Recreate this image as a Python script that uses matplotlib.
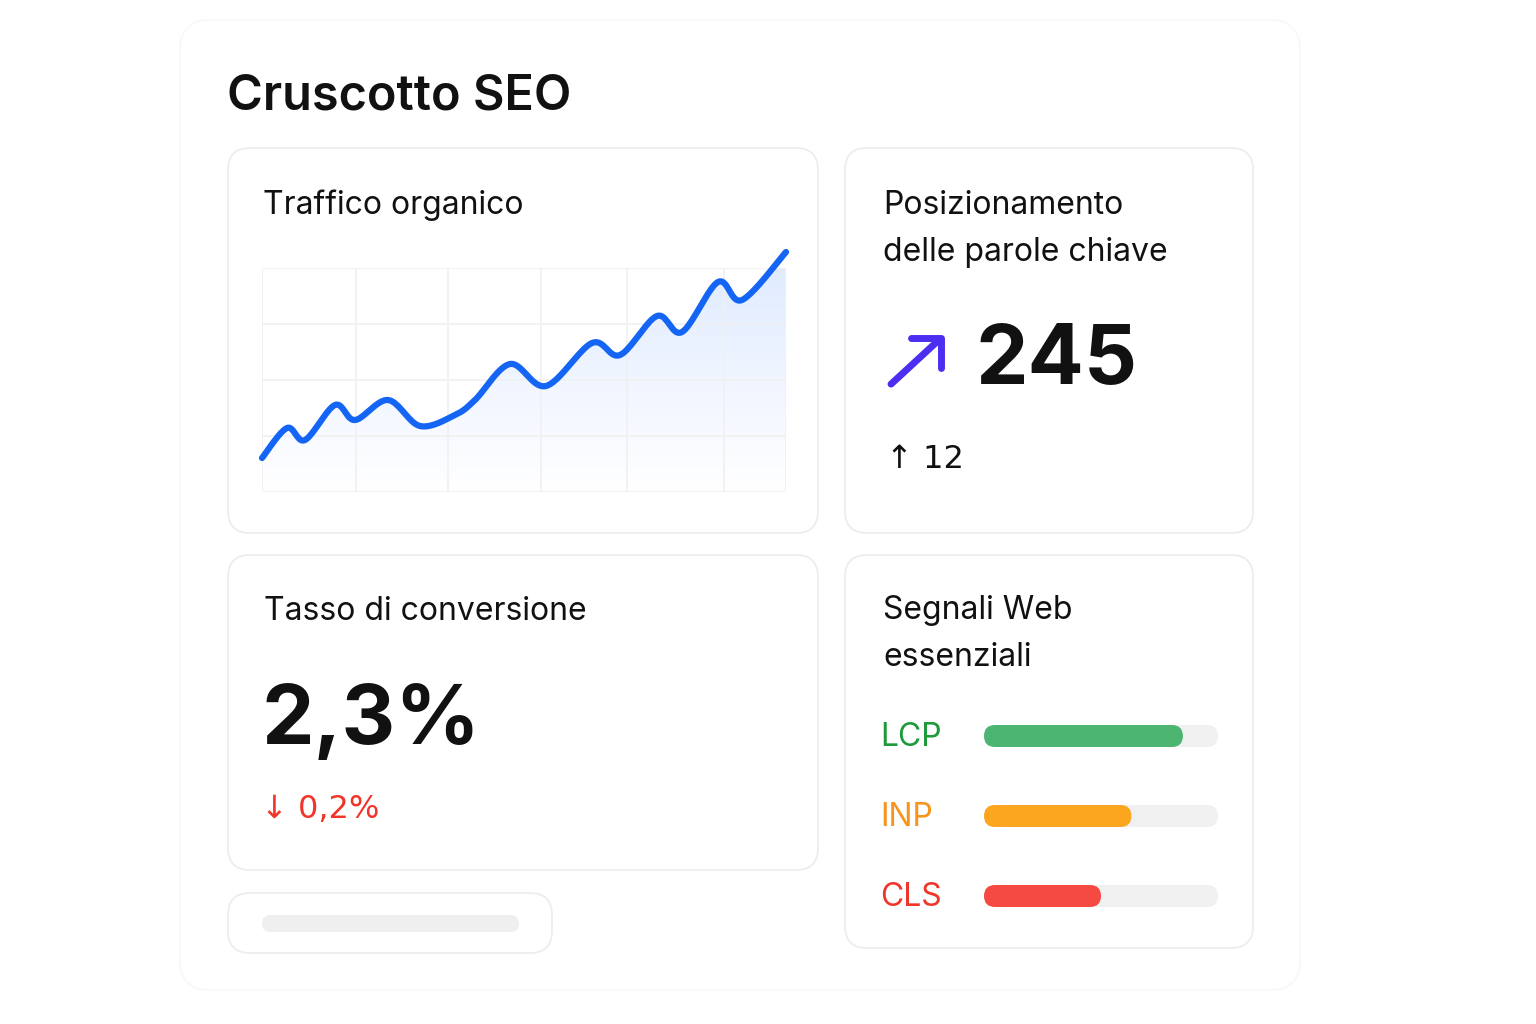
import matplotlib
matplotlib.use("Agg")
import matplotlib.pyplot as plt
import numpy as np
from matplotlib.patches import FancyBboxPatch, FancyArrowPatch
from matplotlib.colors import LinearSegmentedColormap

plt.rcParams['font.family'] = ['Inter', 'DejaVu Sans']

# data
traffic_x = [0, 25, 43, 73, 93, 126, 158, 193, 213, 248, 284, 330, 358, 395, 420, 456, 480, 524]
traffic_y = [34, 64, 52, 87, 72, 92, 66, 77, 92, 128, 106, 149, 137, 176, 160, 210, 192, 240]
cwv_labels = ["LCP", "INP", "CLS"]
cwv_values = [85, 63, 50]
cwv_colors = ["#4DB572", "#FBA61E", "#F44A42"]
cwv_text_colors = ["#1E9A3B", "#F7941D", "#F0352B"]
title = "Cruscotto SEO"
keyword_value = "245"
keyword_delta = "12"
conv_value = "2,3%"
conv_delta = "0,2%"

fig = plt.figure(figsize=(15.36, 10.24), dpi=100)
ax = fig.add_axes([0, 0, 1, 1])
ax.set_xlim(0, 1536); ax.set_ylim(1024, 0); ax.axis('off')

def card(x0, y0, x1, y1, r=22, lw=1.2, ec="#ECECEC", fc="white", z=1):
    ax.add_patch(FancyBboxPatch((x0 + r, y0 + r), x1 - x0 - 2 * r, y1 - y0 - 2 * r,
                                boxstyle=f"round,pad={r}", fc=fc, ec=ec, lw=lw, zorder=z))

card(180, 20, 1300, 990, r=30, ec="#F8F8F8", z=0)
card(228, 148, 818, 533)
card(845, 148, 1253, 533)
card(228, 555, 818, 870)
card(845, 555, 1253, 948)
card(228, 893, 552, 953)
ax.add_patch(FancyBboxPatch((262, 915), 257, 17, boxstyle="round,pad=0,rounding_size=8.5",
                            fc="#EFEFEF", ec="none", zorder=2))

ax.text(227, 96, title, fontsize=35, fontweight='semibold', color="#111111", va='center')
fs = 23
ax.text(263, 205, "Traffico organico", fontsize=fs, color="#111111", va='center')
ax.text(883, 205, "Posizionamento", fontsize=fs, color="#111111", va='center')
ax.text(883, 252, "delle parole chiave", fontsize=fs, color="#111111", va='center')
ax.text(264, 611, "Tasso di conversione", fontsize=fs, color="#111111", va='center')
ax.text(883, 611, "Segnali Web", fontsize=fs, color="#111111", va='center')
ax.text(883, 658, "essenziali", fontsize=fs, color="#111111", va='center')

ax.add_patch(FancyArrowPatch((889, 386), (941, 338), arrowstyle="-", color="#4B2EF0", lw=5,
                             capstyle='round', zorder=3))
ax.plot([911, 941, 941], [338, 338, 368], color="#4B2EF0", lw=5, solid_capstyle='round',
        solid_joinstyle='round', zorder=3)
ax.text(976, 362, keyword_value, fontsize=60, fontweight='bold', color="#111111", va='center')
ax.text(886, 460, "↑ " + keyword_delta, fontsize=23, color="#111111", va='center', family=['DejaVu Sans'])
ax.text(262, 722, conv_value, fontsize=60, fontweight='bold', color="#111111", va='center')
ax.text(261, 810, "↓ " + conv_delta, fontsize=23, color="#F0352B", va='center', family=['DejaVu Sans'])

# line chart
lx = fig.add_axes([262 / 1536, 1 - 492 / 1024, 524 / 1536, 224 / 1024])
lx.set_xlim(0, 524); lx.set_ylim(0, 224)
for s in lx.spines.values(): s.set_visible(False)
lx.set_xticks([0, 94, 186, 279, 365, 462, 524]); lx.set_yticks([0, 56, 112, 168, 224])
lx.grid(True, color="#F0F0F0", lw=1.2); lx.tick_params(length=0, labelbottom=False, labelleft=False)
lx.set_facecolor('none')
px, py = np.array(traffic_x, float), np.array(traffic_y, float)
P = np.column_stack([px, py]); P = np.vstack([P[0], P, P[-1]])
pts = []
for i in range(1, len(P) - 2):
    p0, p1, p2, p3 = P[i - 1], P[i], P[i + 1], P[i + 2]
    for t in np.linspace(0, 1, 20, endpoint=False):
        pts.append(0.5 * ((2 * p1) + (-p0 + p2) * t + (2 * p0 - 5 * p1 + 4 * p2 - p3) * t ** 2
                          + (-p0 + 3 * p1 - 3 * p2 + p3) * t ** 3))
pts.append(P[-2]); pts = np.array(pts)
grad = np.linspace(0, 1, 256).reshape(-1, 1)
cmap = LinearSegmentedColormap.from_list("g", [(0.86, 0.91, 1.0, 0.0), (0.86, 0.91, 1.0, 0.85)])
im = lx.imshow(grad, extent=[0, 524, 0, 224], origin='lower', aspect='auto', cmap=cmap, zorder=1)
poly = lx.fill_between(pts[:, 0], pts[:, 1], 0, color='none')
im.set_clip_path(poly.get_paths()[0], transform=lx.transData)
lx.plot(pts[:, 0], pts[:, 1], color="#1565F5", lw=4.5, solid_capstyle='round', zorder=3, clip_on=False)

# core web vitals bars
for i, (lab, v, c, tc) in enumerate(zip(cwv_labels, cwv_values, cwv_colors, cwv_text_colors)):
    yc = 736 + i * 80
    ax.add_patch(FancyBboxPatch((984, yc - 11), 234, 22, boxstyle="round,pad=0,rounding_size=11",
                                fc="#F0F0F0", ec="none", zorder=2))
    ax.add_patch(FancyBboxPatch((984, yc - 11), 234 * v / 100, 22, boxstyle="round,pad=0,rounding_size=11",
                                fc=c, ec="none", zorder=3))
    ax.text(880, yc + 1, lab, fontsize=23, color=tc, va='center')

fig.savefig("out.png", dpi=100, facecolor="white")
